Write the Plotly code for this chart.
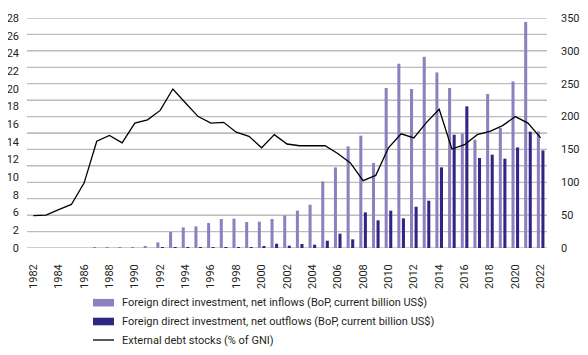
import plotly.graph_objects as go

years = list(range(1982, 2023))

fdi_inflows = [0, 0, 0, 0, 0, 1.2, 1.4, 1.4, 1.5, 1.7, 8.5, 24.3, 31.3, 32.9, 38.0, 44.1,
               44.6, 39.6, 40.0, 44.1, 49.6, 56.8, 65.9, 101.3, 122.6, 154.6, 170.9, 129.3,
               243.5, 280.4, 241.9, 291.0, 267.2, 243.5, 173.9, 164.8, 234.3, 182.6, 253.5,
               343.9, 177.4]

fdi_outflows = [0, 0, 0, 0, 0, 0, 0, 0, 0, 0, 1.5, 1.0, 0.5, 0.5, 0.8, 1.0,
                1.0, 0.8, 2.4, 6.5, 3.5, 6.1, 5.0, 11.1, 21.8, 13.2, 54.2, 42.1,
                56.8, 45.1, 62.8, 72.0, 122.7, 172.4, 215.5, 137.0, 142.0, 135.9, 153.1,
                177.0, 148.5]

debt_pct_gni = [3.93, 4.0, 4.66, 5.3, 7.9, 13.0, 13.7, 12.8, 15.2, 15.6, 16.75, 19.36,
                17.65, 16.0, 15.2, 15.3, 14.1, 13.6, 12.2, 13.8, 12.66, 12.45, 12.45, 12.45,
                11.5, 10.35, 8.2, 8.84, 12.2, 13.9, 13.4, 15.3, 16.9, 12.05, 12.58, 13.8,
                14.2, 14.9, 16.0, 15.2, 13.4]

left_tick_labels = ["0", "2", "6", "8", "10", "12", "14", "16", "18", "20", "22", "24", "26", "28"]
right_tick_labels = ["0", "50", "100", "150", "200", "250", "300", "350"]
x_tick_labels = [str(y) for y in range(1982, 2023, 2)]

legend_names = [
    "Foreign direct investment, net inflows (BoP, current billion US$)",
    "Foreign direct investment, net outflows (BoP, current billion US$)",
    "External debt stocks (% of GNI)",
]

C_IN = "#8e80c0"
C_OUT = "#2e2682"
TXT = "#231f20"
GRID = "#bcbcbc"
FONT = "Roboto"

FIG_W, FIG_H = 572, 339
ML, MR, MT, MB = 19, 33, 10, 99
PAGE_OFF = 8

X_RANGE = [years[0] - 0.5, years[-1] + 0.5]
Y_RANGE = [0, 350]
grid_vals = list(range(Y_RANGE[0], Y_RANGE[1] + 1, 25))

# gridlines on a hidden base axis, so that they sit beneath the bars
gx, gy = [], []
for v in grid_vals:
    gx += [X_RANGE[0], X_RANGE[1], None]
    gy += [v, v, None]

fig = go.Figure()
fig.add_trace(go.Scatter(x=gx, y=gy, mode="lines", yaxis="y", hoverinfo="skip",
                         line=dict(color=GRID, width=1.3), showlegend=False))
fig.add_trace(go.Bar(x=years, y=fdi_inflows, width=0.24, offset=-0.30,
                     marker=dict(color=C_IN, line=dict(width=0)), yaxis="y2", name=legend_names[0]))
fig.add_trace(go.Bar(x=years, y=fdi_outflows, width=0.24, offset=0.06,
                     marker=dict(color=C_OUT, line=dict(width=0)), yaxis="y2", name=legend_names[1]))
fig.add_trace(go.Scatter(x=years, y=debt_pct_gni, mode="lines", yaxis="y3",
                         line=dict(color="black", width=1.3), name=legend_names[2]))

n_left = len(left_tick_labels)
left_tickvals = [28 * i / (n_left - 1) for i in range(n_left)]
right_tickvals = [int(t) for t in right_tick_labels]

fig.update_layout(
    width=FIG_W, height=FIG_H,
    margin=dict(l=ML, r=MR, t=MT, b=MB, pad=0),
    paper_bgcolor="white", plot_bgcolor="rgba(0,0,0,0)",
    showlegend=False, barmode="overlay",
    font=dict(family=FONT, size=11, color=TXT),
    xaxis=dict(range=X_RANGE, tickvals=list(range(1982, 2023, 2)), ticktext=x_tick_labels,
               tickangle=-90, showgrid=False, zeroline=False, showline=False, ticks="",
               ticklabelstandoff=13, automargin=False, tickfont=dict(size=11, color=TXT)),
    yaxis=dict(range=Y_RANGE, tickvals=grid_vals, showgrid=True, gridcolor=GRID, gridwidth=1.3,
               zeroline=False, showline=False, showticklabels=False, ticks="", automargin=False),
    yaxis2=dict(side="right", overlaying="y", range=Y_RANGE, tickvals=right_tickvals,
                ticktext=right_tick_labels, showgrid=False,
                zeroline=False, showline=False, ticks="", ticklabelstandoff=13,
                automargin=False, tickfont=dict(size=11, color=TXT)),
    yaxis3=dict(side="left", overlaying="y", range=[0, 28], tickvals=left_tickvals,
                ticktext=left_tick_labels, showgrid=False, zeroline=False, showline=False,
                ticks="", ticklabelstandoff=7, automargin=False, tickfont=dict(size=11, color=TXT)),
)

plot_w = FIG_W - ML - MR
plot_h = FIG_H - MT - MB
def px_x(p):
    return (p - PAGE_OFF - ML) / plot_w
def px_y(p):
    return (FIG_H - MB + PAGE_OFF - p) / plot_h

rows = [302.7, 321.5, 340]
sw_x0, sw_x1, txt_x = px_x(93), px_x(114), px_x(120)
for i, (name, row) in enumerate(zip(legend_names, rows)):
    if i < 2:
        fig.add_shape(type="rect", xref="paper", yref="paper",
                      x0=sw_x0, x1=sw_x1, y0=px_y(row + 3.8), y1=px_y(row - 3.8),
                      fillcolor=[C_IN, C_OUT][i], line=dict(width=0))
    else:
        fig.add_shape(type="line", xref="paper", yref="paper",
                      x0=sw_x0, x1=sw_x1, y0=px_y(row), y1=px_y(row),
                      line=dict(color="black", width=1.3))
    fig.add_annotation(x=txt_x, y=px_y(row), xref="paper", yref="paper", text=name,
                       showarrow=False, xanchor="left", yanchor="middle",
                       font=dict(family=FONT, size=11, color=TXT))

fig.write_html("out.html")
